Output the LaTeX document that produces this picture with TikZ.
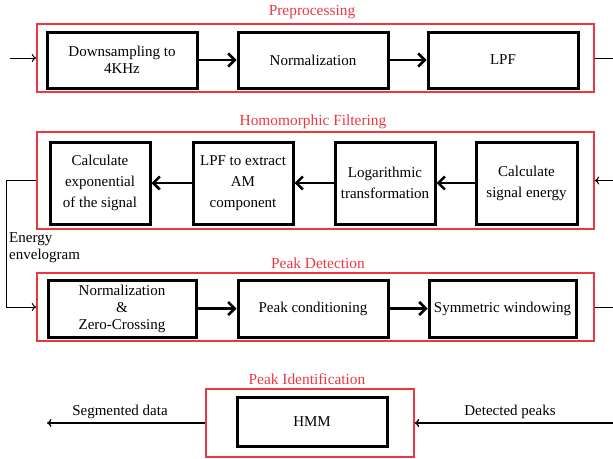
\documentclass[tikz,border=0pt]{standalone}
\usepackage{fontspec}
\setmainfont{Liberation Serif}
\usetikzlibrary{arrows.meta}
\definecolor{redbox}{RGB}{235,55,65}
\begin{document}
\begin{tikzpicture}[x=1pt,y=-1pt,
 blk/.style={draw=black,line width=3pt,inner sep=0pt,align=center,font=\fontsize{15}{17}\selectfont},
 grp/.style={draw=redbox,line width=1.4pt,inner sep=0pt},
 ttl/.style={text=redbox,inner sep=0pt,font=\fontsize{15.4}{18}\selectfont},
 bigarr/.style={line width=2.6pt,-{Straight Barb[length=6.5pt,width=13pt]}},
 thinarr/.style={line width=1pt,-{To[length=4.5pt,width=8pt]}},
 thinline/.style={line width=1pt},
 lbl/.style={inner sep=0pt,align=left,font=\fontsize{15}{17}\selectfont}]
\useasboundingbox (0,0) rectangle (613,458);

% Preprocessing
\node[ttl] (tpre) at (312,12) {Preprocessing};
\node[grp,minimum width=557pt,minimum height=68pt] (pre) at (315.5,58) {};
\node[blk,minimum width=150pt,minimum height=56pt] (p1) at (122,60) {Downsampling to\\4KHz};
\node[blk,minimum width=150pt,minimum height=56pt] (p2) at (313,60) {Normalization};
\node[blk,minimum width=150pt,minimum height=56pt] (p3) at (503,60) {LPF};
\draw[bigarr] (p1) -- (p2);
\draw[bigarr] (p2) -- (p3);
\coordinate (inp) at (10,58);
\coordinate (preout) at (613,58);
\draw[thinarr] (inp) -- (pre.west);
\draw[thinline] (pre.east) -- (preout);

% Homomorphic filtering
\node[ttl] (thom) at (313,122) {Homomorphic Filtering};
\node[grp,minimum width=557pt,minimum height=97pt] (hom) at (315.5,180.5) {};
\node[blk,minimum width=100pt,minimum height=82pt,font=\fontsize{15}{21}\selectfont] (h1) at (100,183) {Calculate\\exponential\\of the signal};
\node[blk,minimum width=100pt,minimum height=82pt,font=\fontsize{15}{21}\selectfont] (h2) at (243,183) {LPF to extract\\AM\\component};
\node[blk,minimum width=100pt,minimum height=82pt,font=\fontsize{15}{21}\selectfont] (h3) at (385,183) {Logarithmic\\transformation};
\node[blk,minimum width=101pt,minimum height=82pt,font=\fontsize{15}{21}\selectfont] (h4) at (526.5,183) {Calculate\\signal energy};
\draw[bigarr] (h4) -- (h3);
\draw[bigarr] (h3) -- (h2);
\draw[bigarr] (h2) -- (h1);
\coordinate (homin) at (613,180.5);
\draw[thinarr] (homin) -- (hom.east);

% Peak detection
\node[ttl] (tdet) at (318,263) {Peak Detection};
\node[grp,minimum width=557pt,minimum height=68pt] (det) at (315.5,307) {};
\node[blk,minimum width=148pt,minimum height=57pt] (d1) at (122,308.5) {Normalization\\\&\\Zero-Crossing};
\node[blk,minimum width=150pt,minimum height=57pt] (d2) at (313,308.5) {Peak conditioning};
\node[blk,minimum width=147pt,minimum height=57pt] (d3) at (502.5,308.5) {Symmetric windowing};
\draw[bigarr] (d1) -- (d2);
\draw[bigarr] (d2) -- (d3);
\coordinate (detout) at (613,307);
\draw[thinline] (det.east) -- (detout);

% loop homomorphic -> detection
\draw[thinarr] (hom.west) -- ++(-30,0) |- (det.west);
\node[lbl,anchor=north west] (env) at (9,232) {Energy\\envelogram};

% Peak identification
\node[ttl] (tid) at (307,379) {Peak Identification};
\node[grp,minimum width=208pt,minimum height=68pt] (pid) at (310,423) {};
\node[blk,minimum width=150pt,minimum height=49pt] (hmm) at (312,421.5) {HMM};
\coordinate (idin) at (613,423);
\coordinate (idout) at (47,423);
\draw[thinarr,line width=1.3pt] (idin) -- (pid.east);
\draw[thinarr,line width=1.3pt] (pid.west) -- (idout);
\node[lbl] (lseg) at (120,412) {Segmented data};
\node[lbl] (ldet) at (510,412) {Detected peaks};
\end{tikzpicture}
\end{document}
